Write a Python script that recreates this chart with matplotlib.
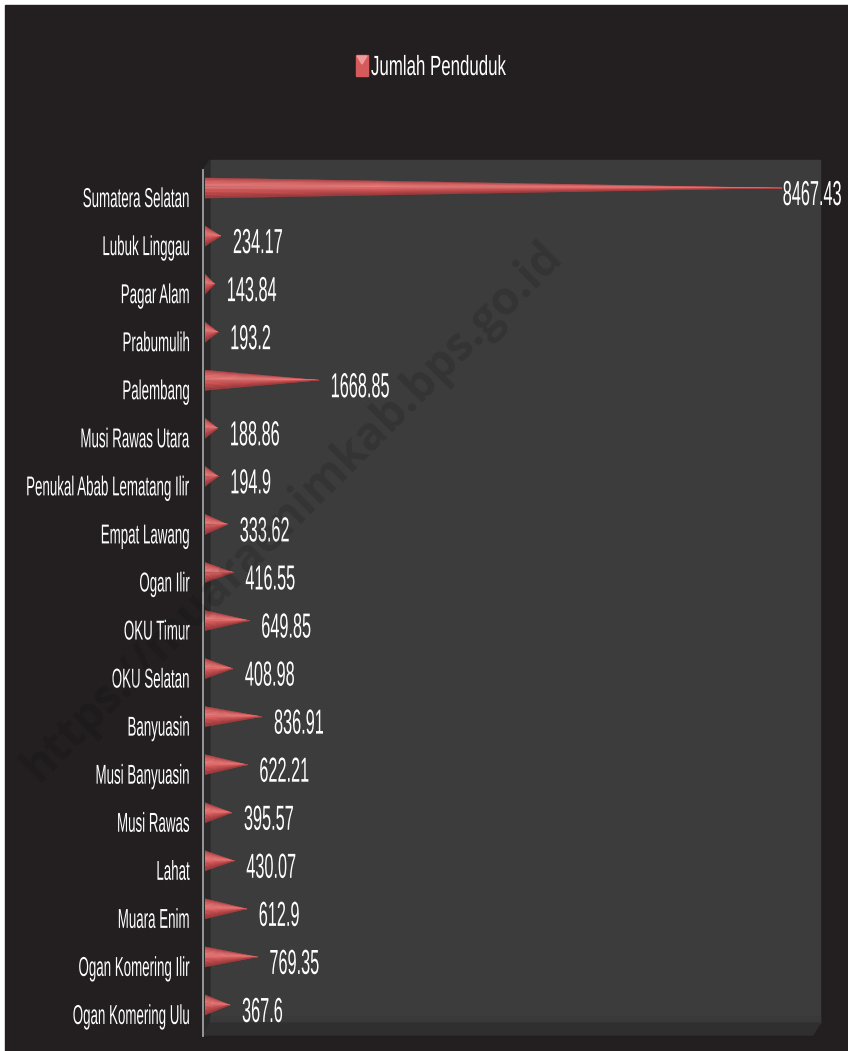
# Jumlah Penduduk per kabupaten/kota, Sumatera Selatan - cone style horizontal bars
import numpy as np
import matplotlib
matplotlib.use('Agg')
import matplotlib.pyplot as plt
from matplotlib import font_manager, patheffects
from matplotlib.patches import Rectangle, Polygon
from matplotlib.lines import Line2D
from matplotlib.transforms import Affine2D

regions = ['Sumatera Selatan', 'Lubuk Linggau', 'Pagar Alam', 'Prabumulih', 'Palembang',
           'Musi Rawas Utara', 'Penukal Abab Lematang Ilir', 'Empat Lawang', 'Ogan Ilir',
           'OKU Timur', 'OKU Selatan', 'Banyuasin', 'Musi Banyuasin', 'Musi Rawas',
           'Lahat', 'Muara Enim', 'Ogan Komering Ilir', 'Ogan Komering Ulu']
penduduk = [8467.43, 234.17, 143.84, 193.2, 1668.85, 188.86, 194.9, 333.62, 416.55,
            649.85, 408.98, 836.91, 622.21, 395.57, 430.07, 612.9, 769.35, 367.6]
value_labels = ['8467.43', '234.17', '143.84', '193.2', '1668.85', '188.86', '194.9', '333.62',
                '416.55', '649.85', '408.98', '836.91', '622.21', '395.57', '430.07', '612.9',
                '769.35', '367.6']
legend_label = 'Jumlah Penduduk'
watermark = 'https://muaraenimkab.bps.go.id'

W, H = 848, 1051
BG = '#231f20'
WALL = '#3c3c3c'
RED = '#d45a5b'

names = {f.name for f in font_manager.fontManager.ttflist}
if 'Liberation Sans Narrow' in names:
    FONT, k = 'Liberation Sans Narrow', 1.0
else:
    FONT, k = 'Liberation Sans', 0.82


class Stretch(patheffects.AbstractPathEffect):
    # stretch glyphs vertically around the baseline (tall condensed look)
    def __init__(self, sy):
        super().__init__()
        self.sy = sy

    def draw_path(self, renderer, gc, tpath, affine, rgbFace=None):
        renderer.draw_path(gc, tpath, Affine2D().scale(1, self.sy) + affine, rgbFace)


def px(x, y):
    return (x / W, 1 - y / H)


fig = plt.figure(figsize=(W / 100, H / 100), dpi=100, facecolor='white')

# dark card, white 5px edge at top/left
fig.patches.append(Rectangle(px(5, 1051), 1, 1 - 5 / H, transform=fig.transFigure,
                             color=BG, zorder=-10))
# back wall, side wall and floor
fig.patches.append(Polygon([px(210, 160), px(820, 160), px(820, 1023), px(210, 1023)],
                           closed=True, transform=fig.transFigure, color=WALL, zorder=-5))
fig.patches.append(Polygon([px(203, 170), px(210, 160), px(210, 1023), px(203, 1035)],
                           closed=True, transform=fig.transFigure, color='#2a2a2a', zorder=-5))
fig.patches.append(Polygon([px(210, 1016), px(820, 1016), px(820, 1023), px(210, 1023)],
                           closed=True, transform=fig.transFigure, color='#393939', zorder=-5))
fig.patches.append(Polygon([px(203, 1035), px(210, 1023), px(820, 1023), px(813, 1035)],
                           closed=True, transform=fig.transFigure, color='#2f2f2f', zorder=-5))
fig.lines.append(Line2D([203 / W, 203 / W], [1 - 170 / H, 1 - 1036 / H],
                        transform=fig.transFigure, color='#a0a0a0', lw=1.3, zorder=-4))

ax = fig.add_axes([205 / W, 1 - 1029 / H, 613 / W, 865 / H])
ax.set_facecolor('none')
ax.set_xlim(0, 9000)
ax.set_ylim(len(regions) - 0.5, -0.5)
ax.axis('off')

# cone shading profile, top edge -> bottom edge
h = 0.21
shade_pos = [0.0, 0.2, 0.4, 0.6, 0.8, 1.0]
shade_rgb = np.array([[0.68, 0.26, 0.27], [0.86, 0.40, 0.40], [0.91, 0.48, 0.48],
                      [0.84, 0.36, 0.36], [0.74, 0.28, 0.29], [0.62, 0.22, 0.23]])
nb = 14
edges = np.linspace(-h, h, nb + 1)
for i, v in enumerate(penduduk):
    for j in range(nb):
        t = (j + 0.5) / nb
        c = [np.interp(t, shade_pos, shade_rgb[:, q]) for q in range(3)]
        ax.fill([0, 0, v], [i + edges[j], i + edges[j + 1], i], color=c, lw=0.3,
                ec=c, zorder=2)

    dx = 1 if v == max(penduduk) else 12
    ax.annotate(value_labels[i], xy=(v, i), xytext=(dx * 0.72, -17 * 0.72),
                textcoords='offset points', ha='left', va='baseline', color='white',
                family=FONT, fontsize=14.3 * k, zorder=5,
                path_effects=[Stretch(1.75 / k)])
    ax.annotate(regions[i], xy=(0, i), xytext=(-15 * 0.72, -19 * 0.72),
                textcoords='offset points', ha='right', va='baseline', color='white',
                family=FONT, fontsize=11.7 * k, zorder=5, annotation_clip=False,
                path_effects=[Stretch(1.68 / k)])

# legend
fig.patches.append(Rectangle(px(356, 76), 12 / W, 21 / H, transform=fig.transFigure,
                             color=RED, zorder=2))
fig.patches.append(Polygon([px(357, 56), px(367, 56), px(362, 64)], closed=True,
                           transform=fig.transFigure, color='#f09a9a', zorder=3))
fig.text(371 / W, 1 - 75 / H, legend_label, ha='left', va='baseline', color='white',
         family=FONT, fontsize=14.8 * k, path_effects=[Stretch(1.35 / k)])

fig.text(292 / W, 1 - 512 / H, watermark, rotation=45, ha='center', va='center',
         fontsize=33, weight='bold', family=['Open Sans', 'DejaVu Sans'],
         color='black', alpha=0.12, zorder=20)

fig.savefig('out.png', dpi=100, facecolor=fig.get_facecolor())
